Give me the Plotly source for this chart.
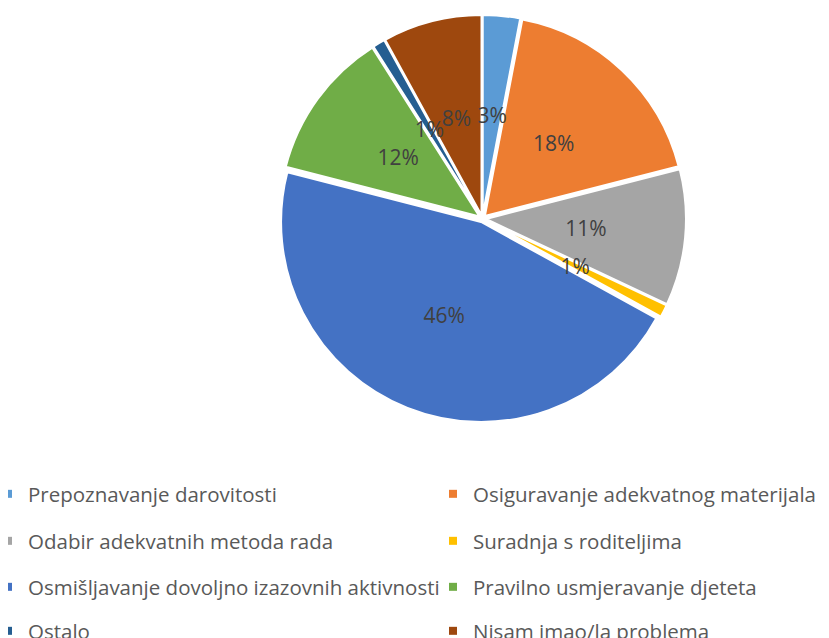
import math
import plotly.graph_objects as go

categories = ["Prepoznavanje darovitosti", "Osiguravanje adekvatnog materijala",
              "Odabir adekvatnih metoda rada", "Suradnja s roditeljima",
              "Osmišljavanje dovoljno izazovnih aktivnosti", "Pravilno usmjeravanje djeteta",
              "Ostalo", "Nisam imao/la problema"]
values = [3, 18, 11, 1, 46, 12, 1, 8]
colors = ["#5B9BD5", "#ED7D31", "#A5A5A5", "#FFC000", "#4472C4", "#70AD47", "#255E91", "#9E480E"]

W, H = 829, 638
FONT = "Open Sans, sans-serif"
OFF = 8                      # page body margin of the saved html
cx, cy = 482.4 - OFF, 218.6 - OFF
PULL = 0.018
r_pie = 200
R = r_pie * (1 + PULL)
LABEL_R = 104                # distance of percentage labels from the centre

def dom(rad):
    return dict(x=[(cx - rad) / W, (cx + rad) / W], y=[(H - cy - rad) / H, (H - cy + rad) / H])

fig = go.Figure()
fig.add_trace(go.Pie(
    labels=categories, values=values, sort=False, direction="clockwise", rotation=0,
    marker=dict(colors=colors, line=dict(color="white", width=2)),
    pull=PULL, textinfo="none",
    showlegend=False, hoverinfo="label+percent",
    domain=dom(R),
))

# transparent copies of the pie, one per label, sized so that plotly's
# inside-text position of that slice lands at LABEL_R from the centre
total = sum(values)
for i, v in enumerate(values):
    half = math.pi * v / total
    r_ins = min(1 / (1 + 1 / math.sin(half)), 0.5)
    rad = LABEL_R / (1 - r_ins)
    fig.add_trace(go.Pie(
        labels=categories, values=values, sort=False, direction="clockwise", rotation=0,
        marker=dict(colors=["rgba(0,0,0,0)"] * len(values), line=dict(width=0)),
        texttemplate="%{percent:.0%}",
        textposition=["inside" if j == i else "none" for j in range(len(values))],
        insidetextorientation="horizontal",
        textfont=dict(family=FONT, size=21, color="#404040"),
        showlegend=False, hoverinfo="skip",
        domain=dom(rad),
    ))

col_x = [-20, 425]
row_y = [494 - OFF, 541 - OFF, 587 - OFF, 631 - OFF]
for i, (cat, col) in enumerate(zip(categories, colors)):
    fig.add_trace(go.Scatter(
        x=[None], y=[None], mode="markers", name=cat,
        marker=dict(symbol="square", size=8, color=col),
        legend="legend" if i == 0 else f"legend{i + 1}", showlegend=True, hoverinfo="skip",
    ))

layout_legends = {}
for i in range(len(categories)):
    key = "legend" if i == 0 else f"legend{i + 1}"
    layout_legends[key] = dict(
        orientation="h", xref="paper", yref="paper",
        xanchor="left", yanchor="middle",
        x=col_x[i % 2] / W, y=1 - row_y[i // 2] / H,
        font=dict(family=FONT, size=20.5, color="#595959"),
        bgcolor="rgba(0,0,0,0)", itemclick=False, itemdoubleclick=False)

fig.update_layout(
    width=W, height=H, margin=dict(l=0, r=0, t=0, b=0, autoexpand=False),
    paper_bgcolor="white", plot_bgcolor="white",
    xaxis=dict(visible=False), yaxis=dict(visible=False),
    uniformtext=dict(minsize=21, mode="show"),
    **layout_legends,
)
fig.write_html("out.html")
